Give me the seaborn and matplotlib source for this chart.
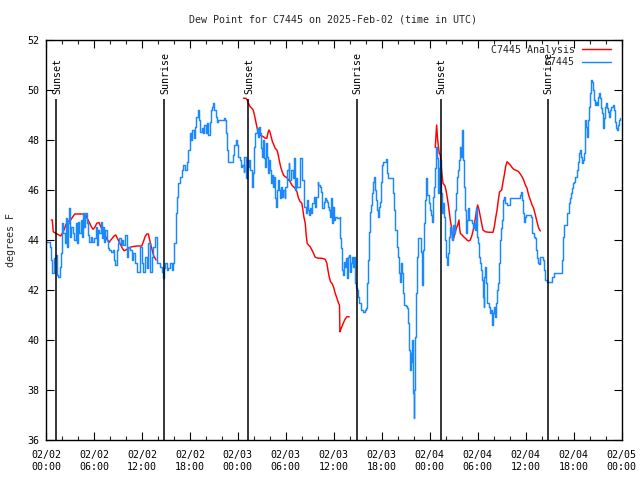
import numpy as np
import pandas as pd
import matplotlib
matplotlib.use("Agg")
import matplotlib.pyplot as plt
from matplotlib.lines import Line2D
import seaborn as sns

# ---- data (hours since 2025-02-02 00:00 UTC, degrees F) ----
obs_hours = [0.00, 0.50, 0.66, 0.79, 1.00, 1.21, 1.41, 1.54, 1.75, 1.92, 2.04, 2.17, 2.34, 2.47, 2.59, 2.75, 2.88,
             3.00, 3.17, 3.34, 3.51, 3.72, 3.84, 4.01, 4.17, 4.34, 4.51, 4.67, 4.80, 4.92, 5.10, 5.22, 5.38, 5.60,
             5.80, 6.01, 6.22, 6.35, 6.51, 6.67, 6.85, 6.97, 7.10, 7.26, 7.42, 7.60, 7.76, 7.93, 8.18, 8.35, 8.51,
             8.68, 8.85, 9.01, 9.18, 9.35, 9.52, 9.68, 9.85, 10.10, 10.30, 10.52, 10.73, 10.93, 11.14, 11.36, 11.56,
             11.77, 11.98, 12.18, 12.39, 12.61, 12.81, 13.02, 13.23, 13.43, 13.65, 13.86, 14.06, 14.27, 14.49, 14.61,
             14.77, 14.90, 15.11, 15.31, 15.52, 15.74, 15.94, 16.06, 16.24, 16.40, 16.56, 16.78, 16.99, 17.19, 17.40,
             17.62, 17.82, 18.03, 18.16, 18.32, 18.49, 18.65, 18.82, 18.99, 19.16, 19.32, 19.49, 19.66, 19.82, 20.00,
             20.16, 20.32, 20.50, 20.66, 20.82, 20.95, 21.07, 21.25, 21.41, 21.57, 22.00, 22.25, 22.41, 22.57, 22.70,
             22.82, 23.32, 23.45, 23.58, 23.75, 23.91, 24.08, 24.25, 24.41, 24.58, 24.75, 24.83, 25.00, 25.13, 25.25,
             25.42, 25.58, 25.71, 25.83, 25.96, 26.08, 26.20, 26.38, 26.51, 26.63, 26.75, 26.88, 27.01, 27.13, 27.26,
             27.42, 27.55, 27.67, 27.79, 27.92, 28.04, 28.17, 28.30, 28.42, 28.55, 28.67, 28.80, 28.92, 29.05, 29.17,
             29.33, 29.46, 29.58, 29.71, 29.84, 29.96, 30.09, 30.21, 30.34, 30.46, 30.68, 30.84, 31.02, 31.14, 31.27,
             31.43, 31.59, 31.72, 31.84, 31.97, 32.09, 32.22, 32.34, 32.52, 32.64, 32.77, 32.93, 33.05, 33.18, 33.34,
             33.52, 33.68, 33.84, 33.97, 34.09, 34.27, 34.39, 34.52, 34.64, 34.77, 34.89, 35.02, 35.18, 35.31, 35.43,
             35.56, 35.65, 35.77, 35.90, 36.02, 36.18, 36.40, 36.72, 36.81, 36.93, 37.06, 37.18, 37.31, 37.43, 37.56,
             37.69, 37.81, 37.94, 38.06, 38.19, 38.31, 38.44, 38.53, 38.65, 38.78, 38.94, 39.06, 39.19, 39.35, 39.60,
             39.85, 40.03, 40.15, 40.28, 40.44, 40.53, 40.65, 40.78, 40.90, 41.03, 41.19, 41.32, 41.44, 41.53, 41.66,
             41.78, 41.91, 42.03, 42.19, 42.36, 42.48, 42.61, 42.78, 43.28, 43.41, 43.53, 43.70, 43.86, 44.03, 44.16,
             44.28, 44.41, 44.53, 44.66, 44.82, 45.03, 45.20, 45.32, 45.45, 45.53, 45.61, 45.70, 45.78, 45.86, 45.99,
             46.07, 46.16, 46.29, 46.41, 46.54, 46.74, 46.86, 46.99, 47.11, 47.24, 47.36, 47.49, 47.61, 47.74, 47.86,
             47.99, 48.11, 48.24, 48.36, 48.49, 48.62, 48.74, 48.83, 48.95, 49.04, 49.12, 49.20, 49.33, 49.45, 49.58,
             49.70, 49.83, 49.95, 50.08, 50.20, 50.33, 50.45, 50.58, 50.71, 50.83, 50.96, 51.08, 51.21, 51.33, 51.46,
             51.58, 51.71, 51.83, 51.92, 52.05, 52.12, 52.25, 52.37, 52.50, 52.62, 52.75, 52.87, 53.09, 53.25, 53.37,
             53.50, 53.63, 53.75, 53.88, 54.00, 54.13, 54.25, 54.38, 54.50, 54.63, 54.75, 54.84, 54.93, 55.05, 55.18,
             55.34, 55.46, 55.59, 55.71, 55.80, 55.93, 56.05, 56.18, 56.30, 56.43, 56.55, 56.68, 56.80, 56.93, 57.06,
             57.18, 57.31, 57.47, 57.68, 57.88, 58.01, 59.13, 59.31, 59.43, 59.56, 59.68, 59.81, 59.93, 60.06, 60.38,
             60.68, 60.85, 61.01, 61.18, 61.35, 61.47, 61.60, 61.72, 61.85, 62.06, 62.22, 62.35, 62.47, 62.69, 63.10,
             63.31, 63.52, 64.35, 64.56, 64.69, 64.81, 65.06, 65.23, 65.39, 65.52, 65.64, 65.82, 65.94, 66.07, 66.23,
             66.40, 66.52, 66.65, 66.77, 66.90, 67.02, 67.15, 67.27, 67.40, 67.48, 67.61, 67.73, 67.86, 67.98, 68.11,
             68.23, 68.36, 68.48, 68.61, 68.73, 68.86, 68.99, 69.11, 69.24, 69.36, 69.49, 69.61, 69.74, 69.86, 69.99,
             70.11, 70.24, 70.36, 70.49, 70.61, 70.74, 70.90, 71.02, 71.15, 71.33, 71.49, 71.62, 71.74, 71.83]
obs_values = [43.9, 43.73, 43.2, 42.68, 43.28, 43.4, 42.6, 42.53, 42.93, 43.48, 44.67, 44.27, 43.87, 44.87, 43.73, 44.67, 45.27,
              44.13, 44.53, 44.27, 44.0, 44.67, 43.87, 44.73, 44.27, 44.8, 44.13, 45.07, 44.53, 45.07, 44.67, 44.2, 43.93, 44.13,
              43.93, 44.07, 44.53, 43.8, 44.4, 44.27, 44.73, 44.07, 44.53, 43.93, 44.4, 44.0, 43.67, 43.6, 43.53, 43.6, 43.2,
              43.0, 43.6, 43.87, 44.07, 43.8, 44.0, 43.8, 44.2, 43.33, 43.73, 43.6, 43.2, 43.47, 43.07, 42.73, 42.73,
              43.73, 43.07, 42.73, 43.33, 42.87, 43.87, 42.73, 43.33, 43.73, 44.13, 43.07, 43.07, 42.9, 42.73, 42.47,
              42.87, 43.07, 42.8, 42.87, 43.07, 42.8, 43.07, 43.87, 45.07, 45.73, 46.27, 46.53, 46.8, 47.0, 46.8,
              47.13, 47.6, 48.27, 48.0, 48.4, 48.07, 48.53, 48.93, 49.2, 48.8, 48.33, 48.47, 48.27, 48.6, 48.27,
              48.67, 48.2, 48.73, 49.2, 49.33, 49.47, 49.2, 48.93, 48.73, 48.8, 48.8, 48.87, 48.8, 48.27, 47.6,
              47.13, 47.13, 47.4, 47.8, 48.0, 47.8, 47.33, 47.2, 46.93, 47.0, 46.73, 47.33, 46.47, 47.2, 46.93,
              47.2, 46.8, 46.4, 46.13, 46.67, 47.73, 48.27, 48.47, 48.13, 48.53, 48.27, 47.67, 47.33, 48.0, 47.27,
              46.93, 47.87, 47.33, 46.67, 47.2, 46.8, 46.27, 46.6, 46.13, 46.53, 45.67, 45.33, 46.0, 46.4, 46.0,
              45.67, 46.13, 45.73, 46.0, 45.67, 46.13, 46.53, 46.8, 47.07, 46.4, 46.8, 46.47, 47.27, 46.0, 46.47,
              46.13, 46.13, 46.6, 47.27, 46.67, 46.4, 46.0, 45.33, 45.07, 45.6, 45.2, 45.0, 45.27, 45.07, 45.47,
              45.73, 45.33, 45.73, 46.33, 46.2, 46.13, 45.93, 45.27, 45.27, 45.53, 45.67, 45.6, 45.53, 45.33, 45.2,
              44.93, 45.67, 44.67, 45.33, 44.8, 44.93, 44.87, 44.93, 44.07, 43.67, 42.8, 42.6, 43.13, 42.93, 43.27,
              42.47, 43.33, 43.4, 42.73, 43.07, 43.33, 42.93, 43.33, 42.27, 42.07, 42.0, 41.73, 41.47, 41.2, 41.13,
              41.2, 41.27, 42.27, 43.2, 44.33, 45.13, 45.4, 45.87, 46.33, 46.53, 46.0, 45.6, 45.2, 44.93, 45.33,
              45.53, 46.33, 47.0, 47.1, 47.13, 47.23, 46.67, 46.47, 46.47, 45.87, 45.2, 44.4, 43.73, 43.33, 42.67,
              42.33, 43.07, 42.67, 41.87, 41.4, 41.36, 41.27, 40.67, 39.6, 38.8, 39.47, 39.13, 40.0, 37.87, 36.87,
              38.0, 40.13, 41.87, 43.33, 44.07, 44.07, 43.53, 42.2, 43.6, 44.67, 45.6, 46.47, 45.8, 45.8, 45.47,
              45.2, 45.0, 44.73, 45.73, 46.13, 46.87, 47.47, 47.73, 47.27, 45.87, 46.67, 46.87, 47.2, 45.87, 45.07,
              45.47, 44.93, 44.0, 43.33, 43.0, 43.47, 44.13, 44.53, 44.27, 44.0, 44.6, 44.27, 45.2, 45.87, 46.53,
              46.8, 47.2, 47.73, 47.33, 48.4, 47.2, 46.13, 45.2, 44.27, 44.8, 45.27, 44.8, 44.8, 44.67, 44.47,
              44.67, 44.4, 45.27, 44.13, 43.87, 43.33, 43.07, 42.8, 42.4, 41.73, 41.33, 42.53, 42.93, 42.27, 41.47,
              41.47, 41.33, 41.07, 41.2, 40.6, 41.07, 41.33, 40.93, 41.47, 42.0, 42.27, 43.07, 44.0, 44.47, 44.8,
              45.6, 45.73, 45.47, 45.4, 45.4, 45.67, 45.67, 45.8, 45.93, 45.6, 45.07, 44.73, 44.93, 45.0, 45.0,
              44.93, 44.27, 44.13, 44.07, 43.6, 43.27, 43.07, 43.04, 43.33, 43.33, 43.2, 42.8, 42.4, 42.33, 42.33,
              42.53, 42.67, 42.67, 43.2, 44.13, 44.6, 44.6, 45.07, 45.47, 45.67, 45.87, 46.07, 46.27, 46.33, 46.53,
              46.8, 47.13, 47.47, 47.6, 47.33, 47.07, 47.2, 47.47, 47.73, 48.8, 48.53, 48.13, 48.8, 49.33, 49.87,
              50.4, 50.33, 50.0, 49.6, 49.4, 49.53, 49.4, 49.73, 49.87, 49.67, 49.27, 49.07, 48.47, 48.87, 49.33,
              49.47, 49.27, 49.13, 48.93, 49.2, 49.33, 49.4, 49.2, 48.73, 48.47, 48.4, 48.6, 48.8, 48.87]

ana_hours = [0.66, 0.79, 0.91, 1.21, 1.63, 1.84, 2.04, 2.25, 2.47, 2.67, 3.09, 3.29, 3.59, 4.97, 5.10, 5.26, 5.47,
             5.67, 5.88, 6.10, 6.35, 6.64, 6.85, 7.05, 7.26, 7.47, 7.67, 7.89, 8.10, 8.30, 8.51, 8.73, 8.93, 9.14,
             9.35, 9.55, 9.77, 9.98, 10.30, 10.73, 11.36, 11.98, 12.18, 12.39, 12.61, 12.81, 13.02, 13.23, 13.43,
             13.77,
             24.70, 25.00, 25.17, 25.33, 25.54, 25.75, 25.92, 26.08, 26.25, 26.42, 26.58, 26.79, 27.01, 27.21,
             27.42, 27.63, 27.76, 27.88, 28.01, 28.17, 28.33, 28.51, 28.67, 28.88, 29.01, 29.13, 29.26, 29.38,
             29.55, 29.71, 29.92, 30.13, 30.34, 30.55, 30.76, 30.96, 31.17, 31.39, 31.59, 31.80, 32.01, 32.14,
             32.26, 32.43, 32.55, 32.68, 32.84, 33.05, 33.27, 33.47, 33.68, 34.09, 34.52, 34.93, 35.14, 35.27,
             35.43, 35.60, 35.77, 35.97, 36.18, 36.40, 36.60, 36.72, 36.77, 36.93, 37.10, 37.27, 37.43, 37.65,
             37.94,
             48.70, 48.87, 49.00, 49.20, 49.33, 49.49, 49.67, 49.92, 50.08, 50.25, 50.42, 50.58, 50.75, 50.87,
             51.00, 51.17, 51.33, 51.50, 51.67, 51.75, 51.83, 52.05, 52.25, 52.46, 52.67, 52.87, 53.09, 53.30,
             53.50, 53.68, 53.84, 54.00, 54.18, 54.34, 54.50, 54.67, 54.96, 55.38, 55.93, 56.09, 56.25, 56.43,
             56.59, 56.75, 57.01, 57.18, 57.34, 57.50, 57.68, 57.88, 58.09, 58.31, 58.51, 58.72, 58.93, 59.13,
             59.34, 59.56, 59.76, 59.97, 60.18, 60.38, 60.60, 60.81, 61.01, 61.22, 61.43, 61.64, 61.85]
ana_values = [44.8, 44.8, 44.33, 44.27, 44.2, 44.16, 44.27, 44.4, 44.6, 44.73, 44.8, 44.9, 45.04, 45.04, 44.9, 44.8, 44.67,
              44.53, 44.43, 44.5, 44.67, 44.7, 44.53, 44.4, 44.27, 44.13, 44.0, 43.9, 44.0, 44.07, 44.16, 44.2, 44.07, 43.93,
              43.8, 43.67, 43.57, 43.6, 43.67, 43.73, 43.76, 43.76, 43.93, 44.13, 44.24, 44.24, 43.93, 43.67, 43.4,
              43.2,
              49.67, 49.67, 49.6, 49.47, 49.33, 49.27, 49.2, 49.0, 48.73, 48.47, 48.27, 48.2, 48.16, 48.13,
              48.07, 48.07, 48.27, 48.4, 48.33, 48.13, 47.93, 47.8, 47.67, 47.6, 47.47, 47.27, 47.07, 46.9,
              46.73, 46.6, 46.53, 46.5, 46.4, 46.33, 46.2, 46.13, 46.07, 45.93, 45.67, 45.53, 45.47, 45.2,
              44.93, 44.67, 44.2, 43.87, 43.8, 43.73, 43.6, 43.47, 43.31, 43.27, 43.27, 43.23, 43.07, 42.8,
              42.53, 42.33, 42.27, 42.13, 41.87, 41.67, 41.47, 41.4, 40.33, 40.47, 40.6, 40.73, 40.84, 40.93,
              40.93,
              47.7, 48.6, 48.0, 47.47, 47.4, 46.8, 46.27, 46.16, 45.93, 45.6, 45.2, 44.8, 44.47, 44.0,
              44.07, 44.27, 44.47, 44.6, 44.8, 44.47, 44.27, 44.2, 44.13, 44.07, 44.0, 43.96, 44.0, 44.2,
              44.47, 44.8, 45.13, 45.4, 45.2, 44.93, 44.67, 44.4, 44.33, 44.31, 44.31, 44.53, 44.87, 45.2,
              45.6, 45.93, 46.0, 46.33, 46.6, 46.93, 47.13, 47.07, 47.0, 46.9, 46.83, 46.8, 46.77, 46.73,
              46.64, 46.53, 46.4, 46.2, 46.07, 45.8, 45.6, 45.4, 45.27, 45.0, 44.73, 44.47, 44.36]

sun_hours = [1.29, 14.81, 25.33, 38.85, 49.37, 62.77]
sun_labels = ["Sunset", "Sunrise", "Sunset", "Sunrise", "Sunset", "Sunrise"]

tick_hours = [0, 6, 12, 18, 24, 30, 36, 42, 48, 54, 60, 66, 72]
tick_labels = ["02/02\n00:00", "02/02\n06:00", "02/02\n12:00", "02/02\n18:00",
               "02/03\n00:00", "02/03\n06:00", "02/03\n12:00", "02/03\n18:00",
               "02/04\n00:00", "02/04\n06:00", "02/04\n12:00", "02/04\n18:00",
               "02/05\n00:00"]
y_ticks = [36, 38, 40, 42, 44, 46, 48, 50, 52]

title = "Dew Point for C7445 on 2025-Feb-02 (time in UTC)"

# ---- plotting ----
sns.set_style("ticks")
plt.rcParams["font.family"] = ["DejaVu Sans Mono"]
plt.rcParams["font.size"] = 7.2

fig = plt.figure(figsize=(6.4, 4.8), dpi=100)
ax = fig.add_axes([46 / 640, 40 / 480, 575.5 / 640, 400 / 480])

obs_df = pd.DataFrame({"hour": obs_hours, "dewpoint": obs_values})
ana_df = pd.DataFrame({"hour": ana_hours, "dewpoint": ana_values})
# analysis is missing for long stretches: split into runs at gaps > 3 h
ana_df["seg"] = (ana_df["hour"].diff() > 3).cumsum()

red = "#ff0000"
blue = "#1a88ff"

sns.lineplot(data=ana_df, x="hour", y="dewpoint", units="seg", estimator=None,
             color=red, lw=1.05, ax=ax, sort=False)
sns.lineplot(data=obs_df, x="hour", y="dewpoint", estimator=None, color=blue,
             lw=1.05, ax=ax, sort=False, drawstyle="steps-post")

for h, lab in zip(sun_hours, sun_labels):
    ax.vlines(h, 36, 49.65, color="black", lw=1.1, zorder=3)
    ax.text(h + 0.08, 49.85, lab, rotation=90, ha="center", va="bottom",
            fontsize=7.2, color="black")

ax.set_xlim(0, 72)
ax.set_ylim(36, 52)
ax.set_xticks(tick_hours)
ax.set_xticklabels(tick_labels, linespacing=1.25)
ax.set_xticks(np.arange(0, 73, 2), minor=True)
ax.set_yticks(y_ticks)
ax.set_yticklabels([str(v) for v in y_ticks])
ax.tick_params(axis="both", which="major", direction="in", length=5.8, width=0.8,
               top=True, right=True, colors="black", labelsize=7.2)
ax.tick_params(axis="x", which="major", pad=7)
ax.tick_params(axis="y", which="major", pad=4.5)
ax.tick_params(axis="x", which="minor", direction="in", length=2.9, width=0.8,
               top=True, bottom=True)
for s in ax.spines.values():
    s.set_color("black")
    s.set_linewidth(1.0)
ax.set_xlabel("")
ax.set_ylabel("")

handles = [Line2D([], [], color=red, lw=1.05), Line2D([], [], color=blue, lw=1.05)]
ax.legend(handles, ["C7445 Analysis", "C7445"], loc="upper right",
          bbox_to_anchor=(0.981, 0.988), frameon=False, markerfirst=False,
          handlelength=2.9, handletextpad=0.7, labelspacing=0.25,
          borderpad=0, borderaxespad=0, fontsize=7.2)

fig.text(333 / 640, 1 - 19 / 480, title, ha="center", va="center", fontsize=7.2)
fig.text(11 / 640, 0.5, "degrees F", rotation=90, ha="center", va="center", fontsize=7.2)

fig.savefig("out.png", dpi=100)
